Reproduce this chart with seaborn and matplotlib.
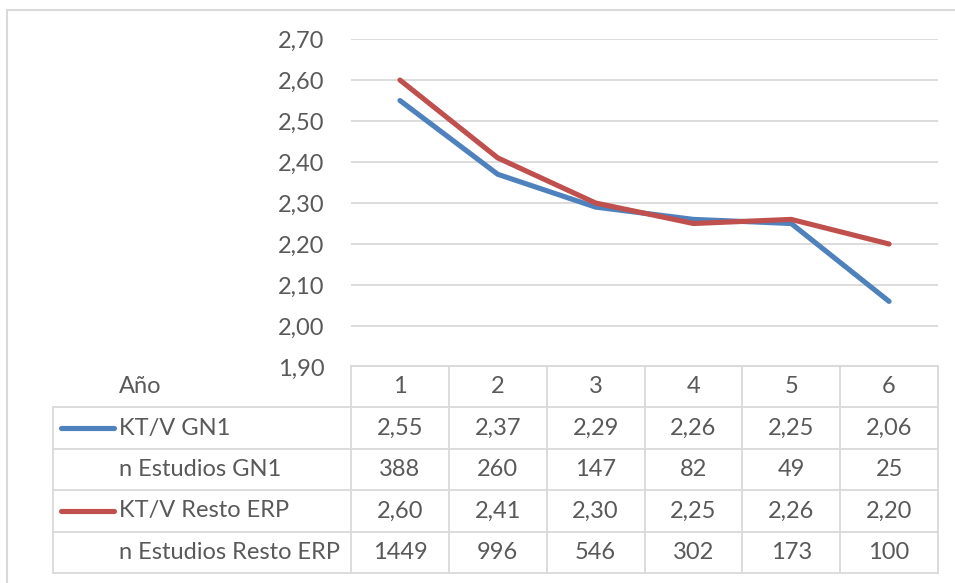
import matplotlib
matplotlib.use("Agg")
import matplotlib.pyplot as plt
import numpy as np
import pandas as pd
import seaborn as sns

# data
years = [1, 2, 3, 4, 5, 6]
ktv_gn1 = [2.55, 2.37, 2.29, 2.26, 2.25, 2.06]
n_gn1 = [388, 260, 147, 82, 49, 25]
ktv_resto = [2.60, 2.41, 2.30, 2.25, 2.26, 2.20]
n_resto = [1449, 996, 546, 302, 173, 100]
row_labels = ["KT/V GN1", "n Estudios GN1", "KT/V Resto ERP", "n Estudios Resto ERP"]
y_ticks = [1.9, 2.0, 2.1, 2.2, 2.3, 2.4, 2.5, 2.6, 2.7]

BLUE = "#4F81BD"
RED = "#C0504D"
TXT = "#595959"
GRID = "#D9D9D9"

sns.set_style("white")
plt.rcParams["font.family"] = ["Lato", "DejaVu Sans"]

W, H = 955, 583
fig = plt.figure(figsize=(W / 100, H / 100), dpi=100)


def rect(l, t, r, b):
    return [l / W, 1 - b / H, (r - l) / W, (b - t) / H]


# outer frame (only top and left visible)
fig.add_artist(plt.Line2D([7 / W, 7 / W], [0, 1 - 10 / H], color=GRID, lw=1.5))
fig.add_artist(plt.Line2D([7 / W, 1], [1 - 10 / H, 1 - 10 / H], color=GRID, lw=1.5))

# line chart
df = pd.DataFrame({
    "Año": years * 2,
    "valor": ktv_gn1 + ktv_resto,
    "serie": ["KT/V GN1"] * 6 + ["KT/V Resto ERP"] * 6,
})

ax = fig.add_axes(rect(351, 39, 938, 367))
sns.lineplot(data=df, x="Año", y="valor", hue="serie",
             palette=[BLUE, RED], linewidth=3.7, legend=False, ax=ax)
for ln in ax.lines:
    ln.set_solid_capstyle("round")
    ln.set_solid_joinstyle("round")

ax.set_xlim(0.5, 6.5)
ax.set_ylim(1.9, 2.7)
ax.set_yticks(y_ticks)
ax.set_yticklabels([f"{v:.2f}".replace(".", ",") for v in y_ticks])
ax.set_xticks([])
ax.set_xlabel("")
ax.set_ylabel("")
ax.tick_params(axis="y", length=0, pad=19, labelsize=17, labelcolor=TXT)
ax.yaxis.grid(True, color=GRID, lw=1.3)
ax.set_axisbelow(True)
sns.despine(ax=ax, left=True, bottom=True)

# data table under the chart
tax = fig.add_axes(rect(53, 366, 938, 573))
col_w = (938 - 351) / 6
x_left = 0.5 - (351 - 53) / col_w
tax.set_xlim(x_left, 6.5)
tax.set_ylim(5, 0)
tax.axis("off")

lc = dict(color=GRID, lw=1.3, clip_on=False)
tax.plot([0.5, 6.5], [0, 0], **lc)
for r in range(1, 6):
    tax.plot([x_left, 6.5], [r, r], **lc)
for c in range(7):
    tax.plot([c + 0.5, c + 0.5], [0, 5], **lc)
tax.plot([x_left, x_left], [1, 5], **lc)

fs = 17
txt_x = x_left + (119 - 53) / col_w
tax.text(txt_x, 0.5, "Año", ha="left", va="center", fontsize=fs, color=TXT)
for i, yr in enumerate(years):
    tax.text(yr, 0.5, str(yr), ha="center", va="center", fontsize=fs, color=TXT)

rows = [
    [f"{v:.2f}".replace(".", ",") for v in ktv_gn1],
    [str(v) for v in n_gn1],
    [f"{v:.2f}".replace(".", ",") for v in ktv_resto],
    [str(v) for v in n_resto],
]
legend_colors = [BLUE, None, RED, None]
for r, (lab, vals, colr) in enumerate(zip(row_labels, rows, legend_colors)):
    yc = r + 1.5
    if colr:
        tax.plot([x_left + (61 - 53) / col_w, x_left + (114 - 53) / col_w], [yc, yc],
                 color=colr, lw=3.7, solid_capstyle="round", clip_on=False)
    tax.text(txt_x, yc, lab, ha="left", va="center", fontsize=fs, color=TXT)
    for yr, v in zip(years, vals):
        tax.text(yr, yc, v, ha="center", va="center", fontsize=fs, color=TXT)

fig.savefig("out.png", dpi=100)
